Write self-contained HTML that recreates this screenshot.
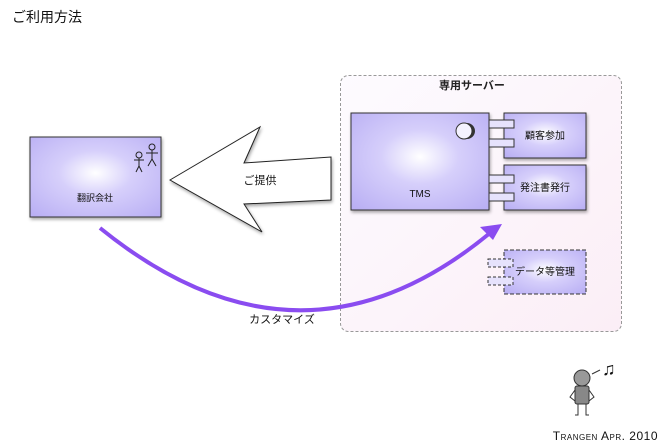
<!DOCTYPE html>
<html><head><meta charset="utf-8"><style>
html,body{margin:0;padding:0;background:#fff;width:670px;height:445px;overflow:hidden}
text{font-family:"Liberation Sans","Noto Sans CJK JP",sans-serif}
</style></head><body>
<svg width="670" height="445" viewBox="0 0 670 445" xmlns="http://www.w3.org/2000/svg">
<defs>
<radialGradient id="g" cx="0.5" cy="0.45" r="0.7">
<stop offset="0" stop-color="#ffffff"/><stop offset="0.4" stop-color="#d6cffb"/><stop offset="1" stop-color="#bab0f4"/>
</radialGradient>
<linearGradient id="bg" x1="0" y1="0" x2="1" y2="1">
<stop offset="0" stop-color="#fdfbff"/><stop offset="1" stop-color="#fbeef6"/>
</linearGradient>
<filter id="sh"><feDropShadow dx="1" dy="2" stdDeviation="1.5" flood-opacity="0.35"/></filter>
</defs>
<text x="12" y="22" font-size="14" fill="#111">ご利用方法</text>
<rect x="340.5" y="75.5" width="281" height="256" rx="8" fill="url(#bg)" stroke="#999" stroke-dasharray="3,2"/>
<text x="472" y="89" font-size="11" font-weight="bold" text-anchor="middle" fill="#222">専用サーバー</text>
<g filter="url(#sh)" stroke="#333" stroke-width="1">
<rect x="30" y="137" width="131" height="80" fill="url(#g)"/>
<rect x="351" y="113" width="138" height="97" fill="url(#g)"/>
<rect x="504" y="113" width="82" height="45" fill="url(#g)"/>
<rect x="504" y="165" width="82" height="45" fill="url(#g)"/>
</g>
<g stroke="#333" fill="#e6e2fc">
<rect x="489" y="120" width="25" height="8"/><rect x="489" y="139" width="25" height="8"/>
<rect x="489" y="175" width="25" height="8"/><rect x="489" y="193" width="25" height="8"/>
</g>
<rect x="504" y="250" width="82" height="44" fill="url(#g)" stroke="#333" stroke-dasharray="4,2"/>
<g stroke="#333" fill="#e6e2fc" stroke-dasharray="3,2">
<rect x="488" y="259" width="25" height="8"/><rect x="488" y="277" width="25" height="8"/>
</g>
<circle cx="467" cy="131" r="8" fill="#333"/><circle cx="464" cy="131" r="8" fill="#f4f2ff" stroke="#333"/>
<text x="420" y="197" font-size="10" text-anchor="middle" fill="#111">TMS</text>
<text x="545" y="139" font-size="10" text-anchor="middle" fill="#111">顧客参加</text>
<text x="545" y="191" font-size="10" text-anchor="middle" fill="#111">発注書発行</text>
<text x="545" y="275" font-size="10" text-anchor="middle" fill="#111">データ等管理</text>
<text x="95" y="201" font-size="9" text-anchor="middle" fill="#111">翻訳会社</text>
<g stroke="#222" fill="none" stroke-width="1">
<circle cx="152" cy="147" r="3"/><path d="M152 150v9M146 153h12M152 159l-4 7M152 159l4 7"/>
<circle cx="139" cy="155" r="3"/><path d="M139 158v8M134 160h10M139 166l-3 6M139 166l3 6"/>
</g>
<path d="M170 180 L260 127 L244 163 L331 157 L331 200 L244 204 L262 232 Z" fill="#fff" stroke="#222" filter="url(#sh)"/>
<text x="260" y="184" font-size="11" text-anchor="middle" fill="#111">ご提供</text>
<path d="M100 228 Q300 390 490 233" fill="none" stroke="#8a4cf0" stroke-width="4"/>
<path d="M502 224 L480 227 L493 240 Z" fill="#8a4cf0"/>
<text x="282" y="323" font-size="11" text-anchor="middle" fill="#111">カスタマイズ</text>
<g>
<circle cx="582" cy="378" r="8" fill="#999" stroke="#333"/>
<rect x="575" y="386" width="14" height="18" rx="2" fill="#888" stroke="#333"/>
<path d="M575 390l-5 7 5 4M589 390l5 7-5 4M578 404v11h-3M586 404v11h3M592 374l8-4" stroke="#333" fill="none"/>
<text x="602" y="375" font-size="18" fill="#111">♫</text>
</g>
<text x="658" y="440" font-size="12" text-anchor="end" fill="#111" letter-spacing="0.5" style="font-variant:small-caps">Trangen Apr. 2010</text>
</svg>
</body></html>
